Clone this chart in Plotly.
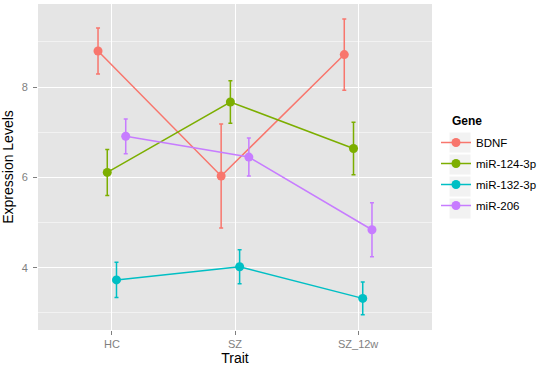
import plotly.graph_objects as go

traits = ["HC", "SZ", "SZ_12w"]
genes = ["BDNF", "miR-124-3p", "miR-132-3p", "miR-206"]
means = {
    "BDNF":       [8.80, 6.03, 8.72],
    "miR-124-3p": [6.11, 7.67, 6.64],
    "miR-132-3p": [3.73, 4.02, 3.32],
    "miR-206":    [6.91, 6.45, 4.84],
}
errors = {
    "BDNF":       [0.51, 1.15, 0.79],
    "miR-124-3p": [0.51, 0.47, 0.58],
    "miR-132-3p": [0.39, 0.375, 0.365],
    "miR-206":    [0.385, 0.42, 0.60],
}
colors = ["#F8766D", "#7CAE00", "#00BFC4", "#C77CFF"]

# panel geometry (pixels) used to place legend decorations
W, H = 550, 369
ml, mr, mt, mb = 38, 118, 4, 39
pw, ph = W - ml - mr, H - mt - mb

def px_x(p):
    return (p - ml) / pw

def px_y(p):
    return (H - mb - p) / ph

dodge_width = 0.3
n = len(genes)
fig = go.Figure()
for i, g in enumerate(genes):
    off = -dodge_width / 2 + dodge_width / n * (i + 0.5)
    xs = [k + 1 + off for k in range(len(traits))]
    fig.add_trace(go.Scatter(
        x=xs, y=means[g], name=g, mode="lines+markers", legendgroup=g,
        line=dict(color=colors[i], width=1.5),
        marker=dict(color=colors[i], size=9),
        error_y=dict(type="data", array=errors[g], color=colors[i], thickness=1.5, width=2),
    ))

# legend key backgrounds (ggplot-style)
for i in range(n):
    fig.add_shape(type="rect", xref="paper", yref="paper",
                  x0=px_x(449), x1=px_x(471),
                  y0=px_y(132 + 22 * i), y1=px_y(153 + 22 * i),
                  fillcolor="#F2F2F2", line=dict(color="white", width=1), layer="above")

fig.add_annotation(text="<b>Gene</b>", xref="paper", yref="paper",
                   x=px_x(450), y=px_y(121), xanchor="left", yanchor="middle",
                   showarrow=False, font=dict(size=12, color="black"))

grid_minor = "#F2F2F2"
fig.update_layout(
    width=W, height=H,
    margin=dict(l=ml, r=mr, t=mt, b=mb),
    paper_bgcolor="white", plot_bgcolor="#E5E5E5",
    font=dict(family="Liberation Sans, Arial, sans-serif", color="black"),
    xaxis=dict(
        range=[0.4, 3.6], tickvals=[1, 2, 3], ticktext=traits,
        showgrid=True, gridcolor="white", gridwidth=1.2, zeroline=False,
        ticks="outside", ticklen=4, tickcolor="#7F7F7F",
        tickfont=dict(size=11, color="#7F7F7F"), automargin=False,
        title=dict(text="Trait", font=dict(size=14), standoff=0),
    ),
    yaxis=dict(
        range=[2.62, 9.84], tickvals=[4, 6, 8],
        showgrid=True, gridcolor="white", gridwidth=1.2, zeroline=False,
        minor=dict(tickvals=[3, 5, 7, 9], showgrid=True, gridcolor=grid_minor, gridwidth=0.8),
        ticks="outside", ticklen=4, tickcolor="#7F7F7F",
        tickfont=dict(size=11, color="#7F7F7F"), automargin=False,
        ticklabelstandoff=3,
        title=dict(text="Expression Levels", font=dict(size=14), standoff=4),
    ),
    legend=dict(
        x=px_x(436), y=px_y(128), xanchor="left", yanchor="top",
        font=dict(size=11.5), itemwidth=30, bgcolor="rgba(0,0,0,0)",
        tracegroupgap=2,
    ),
    showlegend=True,
)

fig.write_html("out.html", config={"displayModeBar": False},
               post_script="document.body.style.margin='0';")
